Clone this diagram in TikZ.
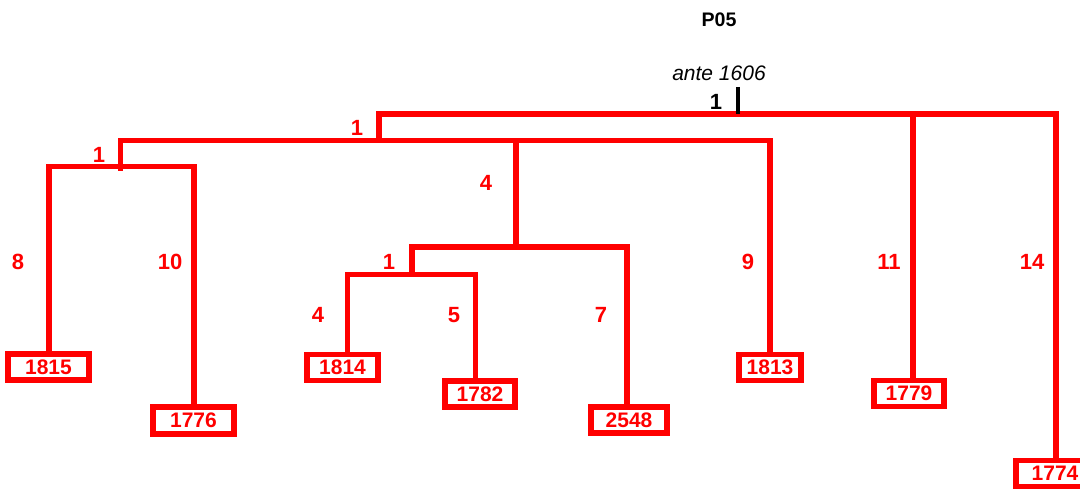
\documentclass[tikz,border=0pt]{standalone}
\usepackage{fontspec}
\setmainfont{Liberation Sans}
\definecolor{tred}{HTML}{FF0000}
\begin{document}
\begin{tikzpicture}[x=0.5pt,y=-0.5pt,
  branch/.style={draw=tred,line width=2.9pt,line join=miter},
  leafbox/.style={draw=tred,line width=2.9pt,inner sep=0pt,text=tred,
    font=\fontsize{10.5}{12}\selectfont\bfseries,minimum height=13pt},
  lbl/.style={text=tred,inner sep=0pt,font=\fontsize{11}{12}\selectfont\bfseries},
]
\useasboundingbox (0,0) rectangle (1080,490);
% leaf boxes
\node[leafbox,minimum width=40.5pt] (b1815) at (48.5,367) {1815};
\node[leafbox,minimum width=40.5pt,minimum height=13.5pt] (b1776) at (193.5,420.5) {1776};
\node[leafbox,minimum width=35.5pt] (b1814) at (342.5,367.5) {1814};
\node[leafbox,minimum width=35pt] (b1782) at (480,394) {1782};
\node[leafbox,minimum width=38pt] (b2548) at (629,420) {2548};
\node[leafbox,minimum width=31pt] (b1813) at (770,367.5) {1813};
\node[leafbox,minimum width=35pt] (b1779) at (909,393.5) {1779};
\node[leafbox,minimum width=39pt] (b1774) at (1055,473.5) {1774};
% stem x positions
\coordinate (x1815) at (49,0);
\coordinate (x1776) at (194,0);
\coordinate (x1814) at (347.5,0);
\coordinate (x1782) at (475.5,0);
\coordinate (x2548) at (627,0);
\coordinate (x1813) at (770,0);
\coordinate (x1779) at (913,0);
\coordinate (x1774) at (1056,0);
\coordinate (x4) at (516,0);
% junctions
\coordinate (t) at (738,114);
\coordinate (ttop) at (738,87);
\coordinate (j1) at (379,140.5);
\coordinate (j11) at (120.5,166.5);
\coordinate (j12) at (516,247);
\coordinate (j121) at (412,274.5);
% branches
\draw[branch] (j1) -- (j1 |- t) -| (x1774 |- b1774.north);
\draw[branch] (x1779 |- t) -- (x1779 |- b1779.north);
\draw[branch] (j11) -- (j11 |- j1) -| (x1813 |- b1813.north);
\draw[branch] (x4 |- j1) -- (j12);
\draw[branch] (x1815 |- b1815.north) |- (j11) -| (x1776 |- b1776.north);
\draw[branch,line cap=rect] (j11) -- ++(0,2);
\draw[branch] (j121) |- (j12) -| (x2548 |- b2548.north);
\draw[branch] (x1814 |- b1814.north) |- (j121) -| (x1782 |- b1782.north);
% root tick
\draw[black,line width=2.2pt] (ttop) -- (t);
% titles
\node[inner sep=0pt,font=\fontsize{9.8}{12}\selectfont\bfseries] (title) at (719,20) {P05};
\node[inner sep=0pt,font=\fontsize{10.5}{12}\selectfont\itshape] (date) at (719,73) {ante 1606};
\node[inner sep=0pt,font=\fontsize{11}{12}\selectfont\bfseries] (l0) at (716,102) {1};
% branch labels
\node[lbl] (l1) at (357,127.5) {1};
\node[lbl] (l2) at (99,155) {1};
\node[lbl] (l3) at (486,183) {4};
\node[lbl] (l4) at (389,262) {1};
\node[lbl] (l5) at (18,262) {8};
\node[lbl] (l6) at (170,262) {10};
\node[lbl] (l7) at (318,315) {4};
\node[lbl] (l8) at (454,315) {5};
\node[lbl] (l9) at (601,315) {7};
\node[lbl] (l10) at (748,262) {9};
\node[lbl] (l11) at (889,262) {11};
\node[lbl] (l12) at (1032,262) {14};
\end{tikzpicture}
\end{document}
